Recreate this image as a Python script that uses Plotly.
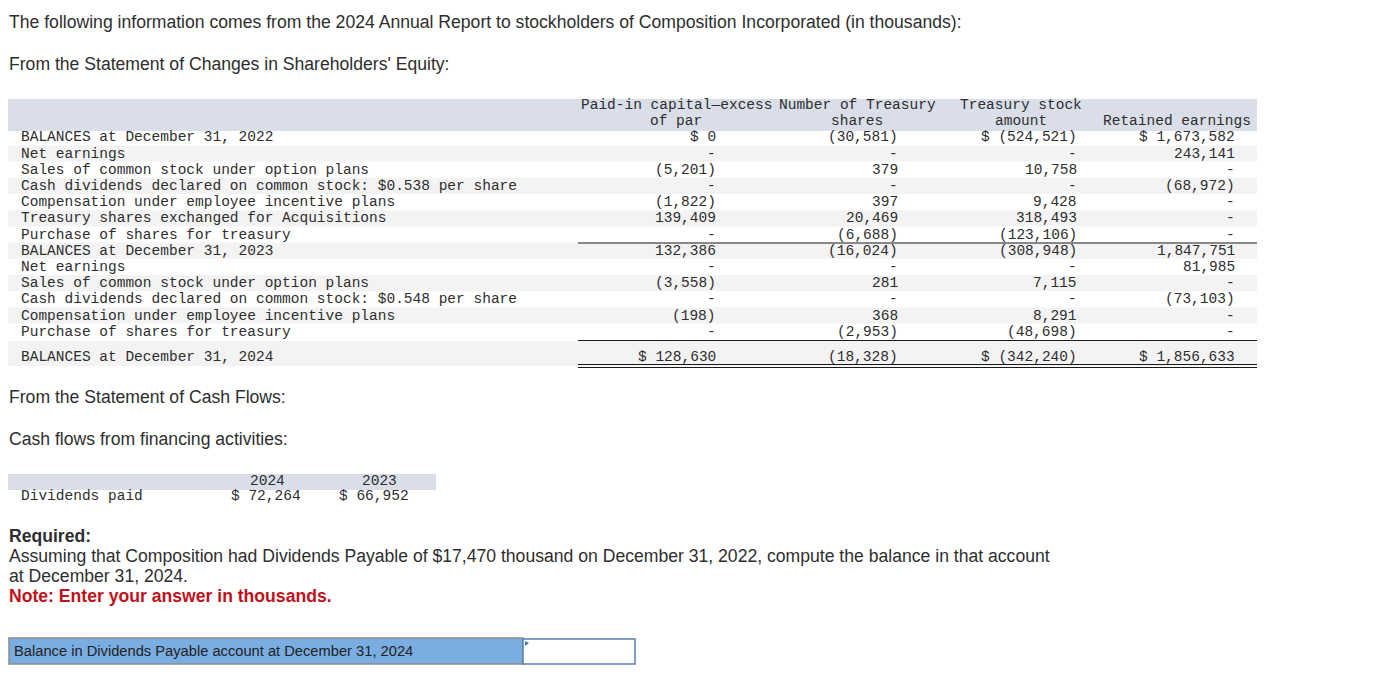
import plotly.graph_objects as go

# ---- data -------------------------------------------------------------
row_labels = [
    "BALANCES at December 31, 2022",
    "Net earnings",
    "Sales of common stock under option plans",
    "Cash dividends declared on common stock: $0.538 per share",
    "Compensation under employee incentive plans",
    "Treasury shares exchanged for Acquisitions",
    "Purchase of shares for treasury",
    "BALANCES at December 31, 2023",
    "Net earnings",
    "Sales of common stock under option plans",
    "Cash dividends declared on common stock: $0.548 per share",
    "Compensation under employee incentive plans",
    "Purchase of shares for treasury",
    "BALANCES at December 31, 2024",
]
paid_in_capital = [0, None, -5201, None, -1822, 139409, None, 132386, None, -3558, None, -198, None, 128630]
treasury_shares = [-30581, None, 379, None, 397, 20469, -6688, -16024, None, 281, None, 368, -2953, -18328]
treasury_amount = [-524521, None, 10758, None, 9428, 318493, -123106, -308948, None, 7115, None, 8291, -48698, -342240]
retained_earnings = [1673582, 243141, None, -68972, None, None, None, 1847751, 81985, None, -73103, None, None, 1856633]
dollar_rows = [0, 13]

col_headers = [
    ["Paid-in capital\u2014excess", "of par"],
    ["Number of Treasury", "shares"],
    ["Treasury stock", "amount"],
    ["", "Retained earnings"],
]
dollar_cols = [True, False, True, True]

cash_years = ["2024", "2023"]
dividends_paid = [72264, 66952]


def fmt(v, dollar=False):
    if v is None:
        return "-"
    s = f"{abs(v):,}"
    if v < 0:
        s = "(" + s + ")"
    if dollar:
        s = "$ " + s
    return s


MONO = "Liberation Mono"
SANS = "Liberation Sans"
SANS_SIZE = 17.6
TXT = "#2e2e2e"

fig = go.Figure()
shapes = []
ann = []


def text(x, y, s, anchor="left", font=SANS, size=SANS_SIZE, color=TXT):
    ann.append(dict(x=x, y=y, text=s, showarrow=False, xanchor=anchor, yanchor="middle",
                    font=dict(family=font, size=size, color=color), borderpad=0))


def rect(x0, y0, x1, y1, fill, line=None, lw=0):
    shapes.append(dict(type="rect", x0=x0, y0=y0, x1=x1, y1=y1, fillcolor=fill,
                       line=dict(width=lw, color=line or fill), layer="below"))


def hline(x0, x1, y, w=1, color="#1a1a1a"):
    shapes.append(dict(type="line", x0=x0, x1=x1, y0=y, y1=y, line=dict(width=w, color=color)))


# ---- intro text -------------------------------------------------------
text(8, 22, "The following information comes from the 2024 Annual Report to stockholders of Composition Incorporated (in thousands):")
text(8, 64, "From the Statement of Changes in Shareholders' Equity:")

# ---- equity table -----------------------------------------------------
tbl_left, tbl_right = 8, 1257
row0, step = 137.3, 16.2
row_y = [row0 + step * i for i in range(len(row_labels) - 1)] + [356.5]

rect(tbl_left, 99, tbl_right, 131, "#d9dee8")
for i, y in enumerate(row_y):
    if i == len(row_y) - 1:
        rect(tbl_left, 341, tbl_right, 366, "#f3f3f3")
    elif i % 2 == 1:
        rect(tbl_left, y - step / 2, tbl_right, y + step / 2, "#f3f3f3")

col_right = [717, 899, 1078, 1236]
col_center = [676, 857, 1021, 1177]
for c, (h1, h2) in enumerate(col_headers):
    if h1:
        text(col_center[c], 105, h1, anchor="center", font=MONO, size=14.5)
    text(col_center[c], 121, h2, anchor="center", font=MONO, size=14.5)

columns = [paid_in_capital, treasury_shares, treasury_amount, retained_earnings]
for i, (lab, y) in enumerate(zip(row_labels, row_y)):
    text(20, y, lab, font=MONO, size=14.5)
    for c, vals in enumerate(columns):
        dollar = dollar_cols[c] and i in dollar_rows
        text(col_right[c], y, fmt(vals[i], dollar), anchor="right", font=MONO, size=14.5)

hline(578, tbl_right, 243)
hline(578, tbl_right, 340.5)
hline(578, tbl_right, 364.5)
hline(578, tbl_right, 367.5)

# ---- cash flow table --------------------------------------------------
text(8, 397, "From the Statement of Cash Flows:")
text(8, 439, "Cash flows from financing activities:")
rect(8, 474, 436, 490, "#d9dee8")
cash_center = [267.5, 379]
cash_right = [302, 410]
for k, yr in enumerate(cash_years):
    text(cash_center[k], 481, yr, anchor="center", font=MONO, size=14.5)
    text(cash_right[k], 496, fmt(dividends_paid[k], True), anchor="right", font=MONO, size=14.5)
text(20, 496, "Dividends paid", font=MONO, size=14.5)

# ---- required ---------------------------------------------------------
text(8, 536, "<b>Required:</b>")
text(8, 556, "Assuming that Composition had Dividends Payable of $17,470 thousand on December 31, 2022, compute the balance in that account")
text(8, 576, "at December 31, 2024.")
text(8, 596, "<b>Note: Enter your answer in thousands.</b>", color="#c0111b")

rect(9, 638, 523, 664, "#7aade2", line="#8a8a8a", lw=1.5)
rect(523, 639, 635, 664, "#ffffff", line="#5a7fae", lw=1.5)
shapes.append(dict(type="path", path="M 525 641 L 529 643 L 525 646 Z", fillcolor="#3b78c4",
                   line=dict(width=0)))
text(13, 651, "Balance in Dividends Payable account at December 31, 2024",
     font="Liberation Sans", size=14.7, color="#222222")

# the page body has an 8px margin, so the plot starts at (8, 8)
fig.update_layout(
    width=1357, height=666,
    margin=dict(l=0, r=0, t=0, b=0),
    paper_bgcolor="white", plot_bgcolor="white",
    xaxis=dict(range=[8, 1365], visible=False, fixedrange=True),
    yaxis=dict(range=[674, 8], visible=False, fixedrange=True),
    shapes=shapes, annotations=ann, showlegend=False,
)
fig.write_html("out.html", config={"displayModeBar": False})
